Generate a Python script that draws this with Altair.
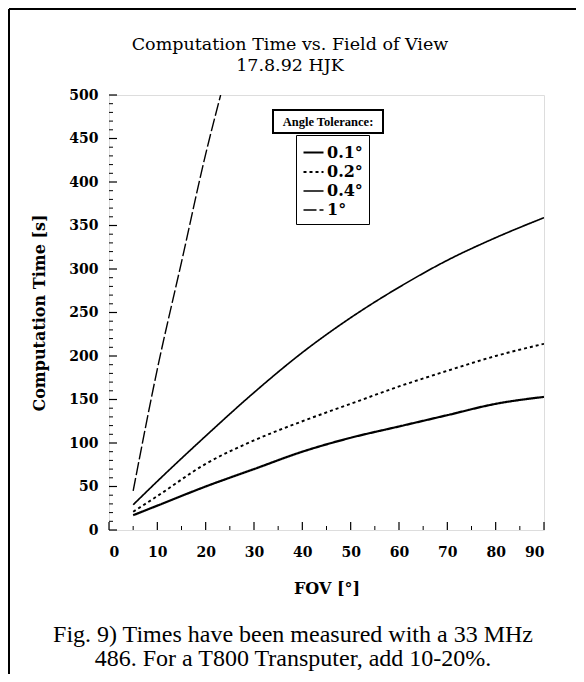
import altair as alt
import pandas as pd

# ---- data ----
tolerances = ["0.1°", "0.2°", "0.4°", "1°"]
fov_std = [5, 10, 20, 30, 40, 50, 60, 70, 80, 90]
time_01 = [17, 28, 50, 70, 90, 106, 119, 132, 145, 153]
time_02 = [21, 39, 76, 103, 125, 145, 165, 183, 200, 214]
time_04 = [29, 56, 108, 158, 204, 244, 279, 310, 336, 359]
fov_1 = [5, 10, 15, 20, 23.1]
time_1 = [45, 185, 308, 432, 500]

x_major = list(range(0, 91, 10))
x_minor = list(range(5, 90, 10))
y_major = list(range(0, 501, 50))
y_minor = [v for v in range(0, 501, 10) if v % 50 != 0]

title_lines = ["Computation Time vs. Field of View", "17.8.92 HJK"]
caption_lines = ["Fig. 9) Times have been measured with a 33 MHz",
                 "486. For a T800 Transputer, add 10-20%."]
legend_title = "Angle Tolerance:"

rows = []
for fov, t in zip(fov_std, time_01):
    rows.append({"fov": fov, "time": t, "tol": tolerances[0]})
for fov, t in zip(fov_std, time_02):
    rows.append({"fov": fov, "time": t, "tol": tolerances[1]})
for fov, t in zip(fov_std, time_04):
    rows.append({"fov": fov, "time": t, "tol": tolerances[2]})
for fov, t in zip(fov_1, time_1):
    rows.append({"fov": fov, "time": t, "tol": tolerances[3]})
df = pd.DataFrame(rows)

W, H = 435, 435
SERIF = "Liberation Serif"
DSERIF = "DejaVu Serif"

xscale = alt.Scale(domain=[0, 90], nice=False, zero=True)
yscale = alt.Scale(domain=[0, 500], nice=False, zero=True)

lines = alt.Chart(df).mark_line(color="black", clip=True, interpolate="monotone").encode(
    x=alt.X("fov:Q", scale=xscale,
            axis=alt.Axis(values=x_major, ticks=False, domain=False, grid=False,
                          labelFont=DSERIF, labelFontSize=14, labelFontWeight="bold",
                          labelPadding=15, labelColor="black",
                          title="FOV [°]", titleFont=DSERIF, titleFontSize=16,
                          titleFontWeight="bold", titlePadding=21, titleColor="black")),
    y=alt.Y("time:Q", scale=yscale,
            axis=alt.Axis(values=y_major, ticks=False, domain=False, grid=False,
                          labelFont=DSERIF, labelFontSize=14, labelFontWeight="bold",
                          labelPadding=11, labelColor="black",
                          title="Computation Time [s]", titleFont=DSERIF, titleFontSize=16,
                          titleFontWeight="bold", titlePadding=21, titleColor="black")),
    detail="tol:N",
    strokeDash=alt.StrokeDash(
        "tol:N",
        scale=alt.Scale(domain=tolerances, range=[[1, 0], [3, 3], [1, 0], [13, 3]]),
        sort=tolerances,
        legend=alt.Legend(orient="none", legendX=187, legendY=40, title=None,
                          strokeColor="black", fillColor="white", padding=6,
                          symbolType="stroke", symbolSize=400, symbolStrokeWidth=1.5,
                          symbolStrokeColor="black", labelFont=DSERIF, labelFontSize=16,
                          labelFontWeight="bold", labelColor="black", labelOffset=2,
                          rowPadding=0)),
    strokeWidth=alt.StrokeWidth(
        "tol:N", scale=alt.Scale(domain=tolerances, range=[2.2, 1.4, 1.5, 1.3]),
        legend=None),
)

tick_y_major = alt.Chart(pd.DataFrame({"v": y_major})).mark_rule(color="black", strokeWidth=1.2).encode(
    y=alt.Y("v:Q", scale=yscale), x=alt.value(0), x2=alt.value(8))
tick_y_minor = alt.Chart(pd.DataFrame({"v": y_minor})).mark_rule(color="black", strokeWidth=1).encode(
    y=alt.Y("v:Q", scale=yscale), x=alt.value(0), x2=alt.value(4))
tick_x_major = alt.Chart(pd.DataFrame({"v": x_major})).mark_rule(color="black", strokeWidth=1.2).encode(
    x=alt.X("v:Q", scale=xscale), y=alt.value(H), y2=alt.value(H - 8))
tick_x_minor = alt.Chart(pd.DataFrame({"v": x_minor})).mark_rule(color="black", strokeWidth=1).encode(
    x=alt.X("v:Q", scale=xscale), y=alt.value(H), y2=alt.value(H - 4))

# legend title box
leg_box = alt.Chart(pd.DataFrame({"t": [legend_title]})).mark_rect(
    fill="white", stroke="black", strokeWidth=2).encode(
    x=alt.value(164), x2=alt.value(274), y=alt.value(15), y2=alt.value(38))
leg_text = alt.Chart(pd.DataFrame({"t": [legend_title]})).mark_text(
    font=SERIF, fontSize=12.5, fontWeight="bold", color="black", baseline="middle").encode(
    text="t:N", x=alt.value(219), y=alt.value(27))

title1 = alt.Chart(pd.DataFrame({"t": [title_lines[0]]})).mark_text(
    font=DSERIF, fontSize=17.5, color="black", baseline="middle").encode(
    text="t:N", x=alt.value(181), y=alt.value(-50))
title2 = alt.Chart(pd.DataFrame({"t": [title_lines[1]]})).mark_text(
    font=DSERIF, fontSize=17.5, color="black", baseline="middle").encode(
    text="t:N", x=alt.value(181), y=alt.value(-29))

cap1 = alt.Chart(pd.DataFrame({"t": [caption_lines[0]]})).mark_text(
    font=SERIF, fontSize=24, color="black", baseline="middle").encode(
    text="t:N", x=alt.value(184), y=alt.value(540))
cap2 = alt.Chart(pd.DataFrame({"t": [caption_lines[1]]})).mark_text(
    font=SERIF, fontSize=24, color="black", baseline="middle").encode(
    text="t:N", x=alt.value(184), y=alt.value(564))

frame_left = alt.Chart(pd.DataFrame({"a": [0]})).mark_rule(color="black", strokeWidth=2).encode(
    x=alt.value(-100), y=alt.value(-86), y2=alt.value(580))
frame_top = alt.Chart(pd.DataFrame({"a": [0]})).mark_rule(color="black", strokeWidth=2).encode(
    y=alt.value(-86), x=alt.value(-100), x2=alt.value(470))

chart = alt.layer(
    frame_left, frame_top, lines, tick_y_major, tick_y_minor, tick_x_major, tick_x_minor,
    leg_box, leg_text, title1, title2, cap1, cap2,
).properties(
    width=W, height=H,
    autosize=alt.AutoSizeParams(type="none"),
    padding={"left": 101, "top": 87, "right": 32, "bottom": 144},
).configure_view(stroke="black", strokeWidth=1.6).configure(background="white")

chart.save("out.html", embed_options={"renderer": "svg", "actions": False})
